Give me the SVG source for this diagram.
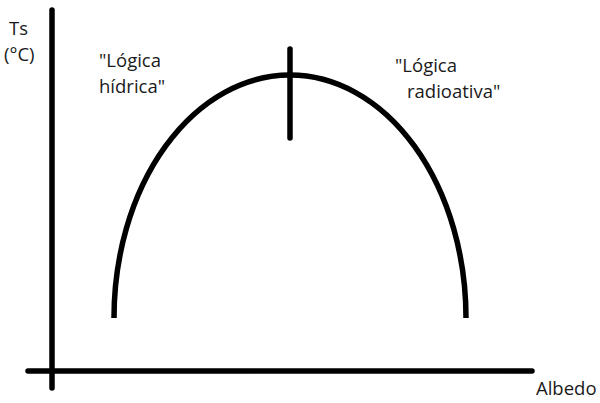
<svg xmlns="http://www.w3.org/2000/svg" width="600" height="403" viewBox="0 0 600 403">
<style>
.ln{stroke:#000;stroke-width:5.5;fill:none;stroke-linecap:round}
.cv{stroke:#000;stroke-width:5.5;fill:none;stroke-linecap:butt}
text{font-family:"Open Sans","Liberation Sans",sans-serif;font-size:18.5px;fill:#1a1a1a}
</style>
<rect width="600" height="403" fill="#fff"/>
<g id="connectors">
<line class="ln" x1="52" y1="10" x2="52" y2="388"/>
<line class="ln" x1="28" y1="371" x2="532" y2="371"/>
</g>
<g id="curve">
<path class="cv" d="M114,318 A176,243 0 0 1 466,318"/>
<line class="ln" x1="290" y1="49" x2="290" y2="138"/>
</g>
<g id="labels">
<text x="9" y="35">Ts</text>
<text x="4" y="61">(°C)</text>
<text x="99" y="67">"Lógica</text>
<text x="99" y="93">hídrica"</text>
<text x="395" y="72">"Lógica</text>
<text x="407" y="98">radioativa"</text>
<text x="536" y="395">Albedo</text>
</g>
</svg>
